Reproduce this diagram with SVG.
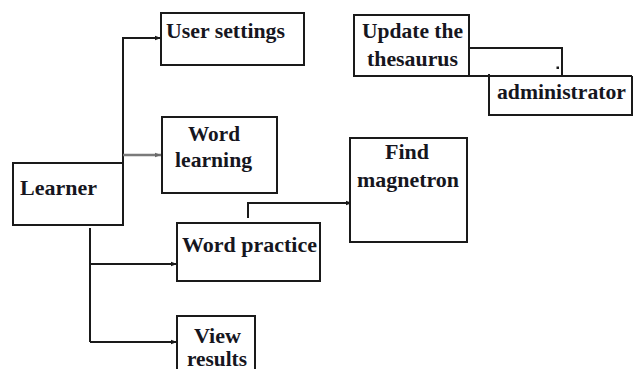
<svg xmlns="http://www.w3.org/2000/svg" width="634" height="369" viewBox="0 0 634 369">
  <defs>
    <style>
      .box { fill: #ffffff; stroke: #1a1a1a; stroke-width: 2; }
      .wire { fill: none; stroke: #1a1a1a; stroke-width: 2; }
      .wire-grey { fill: none; stroke: #7a7a7a; stroke-width: 2.5; }
      text { font-family: "Liberation Serif", "Times New Roman", Times, serif; font-weight: bold; font-size: 21px; fill: #16161e; }
    </style>
    <marker id="tip" viewBox="0 0 6 6" refX="6" refY="3" markerWidth="6" markerHeight="6" markerUnits="userSpaceOnUse" orient="auto">
      <path d="M0,0.8 L6,3 L0,5.2 Z" fill="#1a1a1a"/>
    </marker>
    <marker id="tip-grey" viewBox="0 0 6 6" refX="6" refY="3" markerWidth="6" markerHeight="6" markerUnits="userSpaceOnUse" orient="auto">
      <path d="M0,0.8 L6,3 L0,5.2 Z" fill="#6a6a6a"/>
    </marker>
  </defs>
  <rect width="634" height="369" fill="#ffffff"/>

  <g id="connectors">
    <!-- Learner to User settings -->
    <path class="wire" d="M123,163 V38 H161" marker-end="url(#tip)"/>
    <!-- Learner to Word learning -->
    <path class="wire-grey" d="M123,155 H161" marker-end="url(#tip-grey)"/>
    <!-- small tick on Learner -->
    <path class="wire" d="M115,197 H123"/>
    <!-- Learner to Word practice and View results -->
    <path class="wire" d="M90,228 V342"/>
    <path class="wire" d="M90,264 H177" marker-end="url(#tip)"/>
    <path class="wire" d="M90,342 H177" marker-end="url(#tip)"/>
    <!-- Word practice to Find magnetron -->
    <path class="wire" d="M248,218 V203 H352" marker-end="url(#tip)"/>
    <!-- Update the thesaurus to administrator -->
    <path class="wire" d="M469,48 H562 V76"/>
    <path class="wire" d="M354,76 H632"/>
    <rect x="556.5" y="66.5" width="2.5" height="2.5" fill="#1a1a1a"/>
  </g>

  <g id="user-settings">
    <rect class="box" x="161" y="13" width="143" height="52"/>
    <text x="166" y="38" textLength="119" lengthAdjust="spacingAndGlyphs">User settings</text>
  </g>

  <g id="word-learning">
    <rect class="box" x="162" y="117" width="115" height="76"/>
    <text x="188" y="141" textLength="52" lengthAdjust="spacingAndGlyphs">Word</text>
    <text x="175" y="167" textLength="77" lengthAdjust="spacingAndGlyphs">learning</text>
  </g>

  <g id="learner">
    <rect class="box" x="13" y="163" width="110" height="62"/>
    <text x="20" y="195" textLength="77" lengthAdjust="spacingAndGlyphs">Learner</text>
  </g>

  <g id="word-practice">
    <rect class="box" x="177" y="223" width="143" height="58"/>
    <text x="182" y="252" textLength="135" lengthAdjust="spacingAndGlyphs">Word practice</text>
  </g>

  <g id="find-magnetron">
    <rect class="box" x="350" y="138" width="117" height="104"/>
    <text x="385" y="159" textLength="44" lengthAdjust="spacingAndGlyphs">Find</text>
    <text x="357" y="187" textLength="102" lengthAdjust="spacingAndGlyphs">magnetron</text>
  </g>

  <g id="view-results">
    <rect class="box" x="177" y="316" width="78" height="60"/>
    <text x="194" y="343" textLength="47" lengthAdjust="spacingAndGlyphs">View</text>
    <text x="187" y="366" textLength="60" lengthAdjust="spacingAndGlyphs">results</text>
  </g>

  <g id="update-thesaurus">
    <rect class="box" x="354" y="15" width="115" height="61"/>
    <text x="362" y="38" textLength="101" lengthAdjust="spacingAndGlyphs">Update the</text>
    <text x="367" y="66" textLength="91" lengthAdjust="spacingAndGlyphs">thesaurus</text>
  </g>

  <g id="administrator">
    <path class="wire" d="M489,74 V115 H632 V76"/>
    <text x="497" y="99" textLength="129" lengthAdjust="spacingAndGlyphs">administrator</text>
  </g>
</svg>
